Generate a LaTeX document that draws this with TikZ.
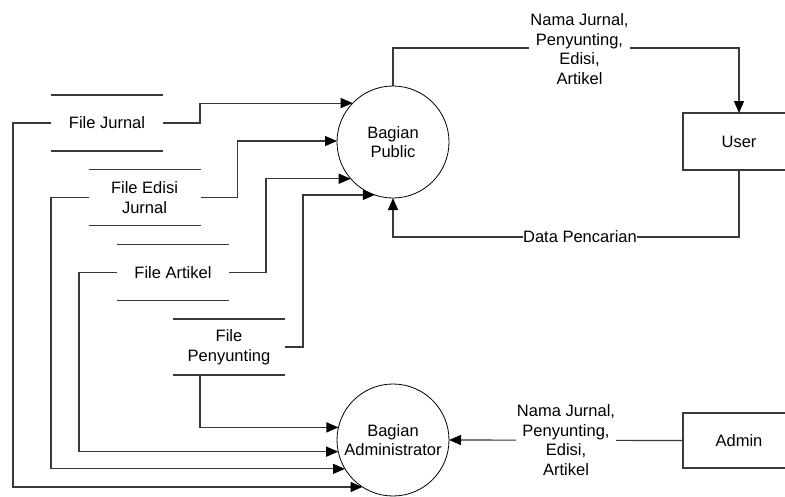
\documentclass[tikz,border=0pt]{standalone}
\usepackage{fontspec}
\setmainfont{Liberation Sans}
\usetikzlibrary{arrows.meta}
\begin{document}
\begin{tikzpicture}[x=1pt,y=-1pt,
  every node/.style={font=\fontsize{16.5}{19.5}\selectfont},
  proc/.style={circle,draw=black,line width=0.8pt,minimum size=112pt,inner sep=0pt,outer sep=0pt,align=center},
  ext/.style={rectangle,draw=gray!45!black,line width=1.2pt,minimum width=112pt,minimum height=57pt,inner sep=0pt,outer sep=0pt},
  store/.style={rectangle,minimum width=112pt,minimum height=56pt,inner sep=0pt,outer sep=0pt,align=center},
  storeline/.style={draw=gray!45!black,line width=1.2pt},
  flow/.style={draw=gray!45!black,line width=1.2pt,-{Triangle[length=12pt,width=10pt,black]}},
  plain/.style={draw=gray!45!black,line width=1.2pt},
  lbl/.style={fill=white,inner xsep=1pt,inner ysep=1pt,align=center}]
\clip (0,0) rectangle (785,496);
\fill[white] (0,0) rectangle (785,496);

% processes
\node[proc] (pub) at (393,142) {Bagian\\Public};
\node[proc] (adm) at (393,440) {Bagian\\Administrator};

% external entities
\node[ext] (user) at (739,141.5) {User};
\node[ext,minimum height=55pt] (admin) at (739,440.5) {Admin};

% data stores
\node[store] (fj) at (107,123) {File Jurnal};
\node[store] (fe) at (144.5,197.5) {File Edisi\\Jurnal};
\node[store] (fa) at (173,272.5) {File Artikel};
\node[store] (fp) at (229,347) {File\\Penyunting};
\foreach \s in {fj,fe,fa,fp}{
  \draw[storeline] (\s.north west) -- (\s.north east);
  \draw[storeline] (\s.south west) -- (\s.south east);
}

% flows into Bagian Public
\draw[flow] (fj.east) -- ++(37,0) |- (pub.136);
\draw[flow] (fe.east) -- ++(37,0) |- (pub.179);
\draw[flow] (fa.east) -- ++(37,0) |- (pub.221);
\draw[flow] (fp.east) -- ++(18,0) |- (pub.251);

% flows into Bagian Administrator
\draw[flow] (fj.west) -- ++(-38,0) |- (adm.237);
\draw[flow] (fe.west) -- ++(-37.5,0) |- (adm.211);
\draw[flow] (fa.west) -- ++(-38,0) |- (adm.192);
\draw[flow] ([xshift=-29pt]fp.south) |- (adm.167);

% Public <-> User
\draw[flow] (pub.north) -- ++(0,-38) -| (user.north);
\node[lbl] (l1) at (579.5,49) {Nama Jurnal,\\Penyunting,\\Edisi,\\Artikel};
\draw[flow] (user.south) -- ++(0,67) -| (pub.south);
\node[lbl,inner xsep=0pt,inner ysep=0pt] (l2) at (580,237) {Data Pencarian};

% Admin -> Administrator
\draw[flow] (admin.west) -- (adm.east);
\node[lbl] (l3) at (566,440) {Nama Jurnal,\\Penyunting,\\Edisi,\\Artikel};
\end{tikzpicture}
\end{document}
